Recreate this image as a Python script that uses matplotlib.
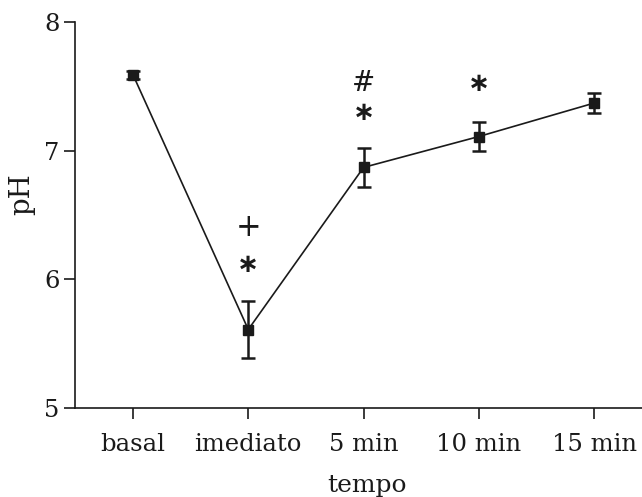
import numpy as np
import matplotlib
matplotlib.use("Agg")
import matplotlib.pyplot as plt

# data
categories = ["basal", "imediato", "5 min", "10 min", "15 min"]
ph_mean = [7.59, 5.61, 6.87, 7.11, 7.37]
ph_err = [0.03, 0.22, 0.15, 0.11, 0.08]

# significance marks: (category index, symbol, y value)
mark_idx = [1, 1, 2, 2, 3]
mark_sym = ["+", "*", "#", "*", "*"]
mark_y = [6.40, 6.11, 7.52, 7.29, 7.52]

plt.rcParams['font.family'] = ['DejaVu Serif']

fig = plt.figure(figsize=(6.42, 4.97), dpi=100)
ax = fig.add_axes([75/642, 1 - 408/497, 1 - 75/642, 386/497])

x = np.arange(len(categories))
ax.errorbar(x, ph_mean, yerr=ph_err, color="#1a1a1a", marker="s", markersize=6.5,
            linewidth=1.2, elinewidth=1.8, capsize=5, capthick=1.8)

for i, s, yv in zip(mark_idx, mark_sym, mark_y):
    if s == "*":
        ax.text(x[i], yv, "\u2217", ha="center", va="center", fontsize=19,
                fontweight="bold", color="#1a1a1a", family="DejaVu Sans")
    elif s == "+":
        ax.text(x[i], yv, s, ha="center", va="center", fontsize=22, color="#1a1a1a")
    else:
        ax.text(x[i], yv, s, ha="center", va="center", fontsize=20, color="#1a1a1a")

ax.set_xlim(-0.503, 4.415)
ax.set_ylim(5, 8)
ax.set_yticks([5, 6, 7, 8])
ax.set_xticks(x)
ax.set_xticklabels(categories)
ax.tick_params(axis="both", labelsize=17.5, length=8, width=1.2, color="#1a1a1a",
               labelcolor="#1a1a1a")
ax.tick_params(axis="x", pad=10)
ax.tick_params(axis="y", pad=3)

for side in ["top", "right"]:
    ax.spines[side].set_visible(False)
for side in ["left", "bottom"]:
    ax.spines[side].set_linewidth(1.2)
    ax.spines[side].set_color("#1a1a1a")

ax.set_ylabel("pH", fontsize=20, color="#1a1a1a")
ax.yaxis.set_label_coords(-0.07, 0.554)
ax.set_xlabel("tempo", fontsize=18, color="#1a1a1a")
ax.xaxis.set_label_coords(0.515, -0.17)

fig.savefig("out.png", dpi=100)
